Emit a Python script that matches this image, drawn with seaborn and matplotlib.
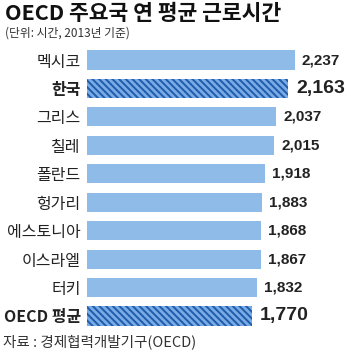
import matplotlib
matplotlib.use("Agg")
import matplotlib.pyplot as plt
import seaborn as sns
import pandas as pd
from matplotlib import font_manager

countries = ["멕시코", "한국", "그리스", "칠레", "폴란드", "헝가리", "에스토니아", "이스라엘", "터키", "OECD 평균"]
hours = [2237, 2163, 2037, 2015, 1918, 1883, 1868, 1867, 1832, 1770]
highlight = [False, True, False, False, False, False, False, False, False, True]
value_labels = ["2,237", "2,163", "2,037", "2,015", "1,918", "1,883", "1,868", "1,867", "1,832", "1,770"]

title = "OECD 주요국 연 평균 근로시간"
subtitle = "(단위: 시간, 2013년 기준)"
source = "자료 : 경제협력개발기구(OECD)"

sns.set_theme(style="white")
plt.rcParams['font.family'] = ['Noto Sans CJK KR', 'DejaVu Sans']
plt.rcParams['hatch.linewidth'] = 1.4
plt.rcParams['hatch.color'] = '#1f5cab'

names = {f.name for f in font_manager.fontManager.ttflist}
num_font = 'Liberation Sans Narrow' if 'Liberation Sans Narrow' in names else 'Liberation Sans'

df = pd.DataFrame({"country": countries, "hours": hours, "hl": highlight})

fig = plt.figure(figsize=(3.54, 3.54), dpi=100)
ax = fig.add_axes([87/354, 1-330.2/354, 267/354, (330.2-45.8)/354])

light = '#8fbbe9'
hatch_bg = '#7aabe6'
sns.barplot(data=df, y="country", x="hours", ax=ax, orient="h",
            color=light, width=0.67, saturation=1, edgecolor='none', linewidth=0)

for patch, hl in zip(ax.patches, highlight):
    if hl:
        patch.set_facecolor(hatch_bg)
        patch.set_hatch('\\\\\\\\\\')
        patch.set_edgecolor('#1f5cab')
        patch.set_linewidth(0)

ax.set_xlim(0, 2871)
ax.set_ylim(9.5, -0.5)
ax.set_xlabel("")
ax.set_ylabel("")
ax.set_xticks([])
ax.tick_params(axis='y', length=0, pad=4.5)
for lbl, hl in zip(ax.get_yticklabels(), highlight):
    lbl.set_fontsize(11.5)
    lbl.set_color('#222222')
    if hl:
        lbl.set_fontweight('bold')
for s in ax.spines.values():
    s.set_visible(False)

for i, (v, t, hl) in enumerate(zip(hours, value_labels, highlight)):
    ax.annotate(t, xy=(v, i), xytext=(5 if not hl else 6, 0), textcoords='offset points',
                va='center', ha='left', fontsize=14 if hl else 11,
                fontweight='bold', color='#222222', family=[num_font, 'DejaVu Sans'])

fig.text(5/354, 1-14/354, title, fontsize=15.5, fontweight='bold', va='center', ha='left', color='#111111')
fig.text(5/354, 1-33/354, subtitle, fontsize=8.5, va='center', ha='left', color='#333333')
fig.text(3/354, 1-342/354, source, fontsize=10.5, va='center', ha='left', color='#333333')

fig.savefig("out.png", dpi=100, facecolor='white')
